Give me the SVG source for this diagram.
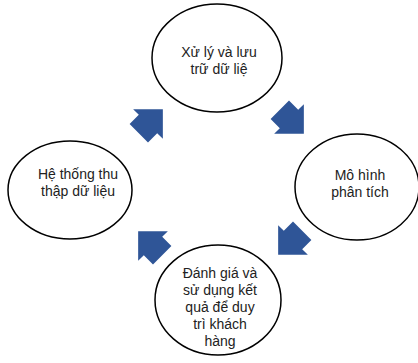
<svg xmlns="http://www.w3.org/2000/svg" width="418" height="363" viewBox="0 0 418 363">
<defs>
<style>
.node ellipse{fill:#fff;stroke:#000;stroke-width:1.5}
.node text{font-family:"Liberation Sans","Open Sans",sans-serif;font-size:14px;fill:#222;text-anchor:middle}
.arr{fill:#2F5597}
</style>
<path id="blk" d="M-13,-13 L0,-13 L0,-21 L21,0 L0,21 L0,13 L-13,13 Z"/>
</defs>
<rect width="418" height="363" fill="#fff"/>
<g id="n1" class="node"><ellipse cx="217" cy="58" rx="65" ry="54"/><text x="219" y="57">Xử lý và lưu</text><text x="219" y="74">trữ dữ liệ</text></g>
<g id="n2" class="node"><ellipse cx="357" cy="187" rx="62" ry="53"/><text x="360" y="180">Mô hình</text><text x="360" y="197">phân tích</text></g>
<g id="n3" class="node"><ellipse cx="218" cy="300" rx="63" ry="55"/><text x="220" y="278">Đánh giá và</text><text x="220" y="295">sử dụng kết</text><text x="220" y="312">quả để duy</text><text x="220" y="329">trì khách</text><text x="220" y="346">hàng</text></g>
<g id="n4" class="node"><ellipse cx="70" cy="190" rx="62" ry="49"/><text x="78" y="179">Hệ thống thu</text><text x="78" y="196">thập dữ liệu</text></g>
<g id="connectors" class="arr">
<use href="#blk" transform="translate(148,124) rotate(-45)"/>
<use href="#blk" transform="translate(289,119) rotate(45)"/>
<use href="#blk" transform="translate(293,240) rotate(135)"/>
<use href="#blk" transform="translate(153,246) rotate(-135)"/>
</g>
</svg>
